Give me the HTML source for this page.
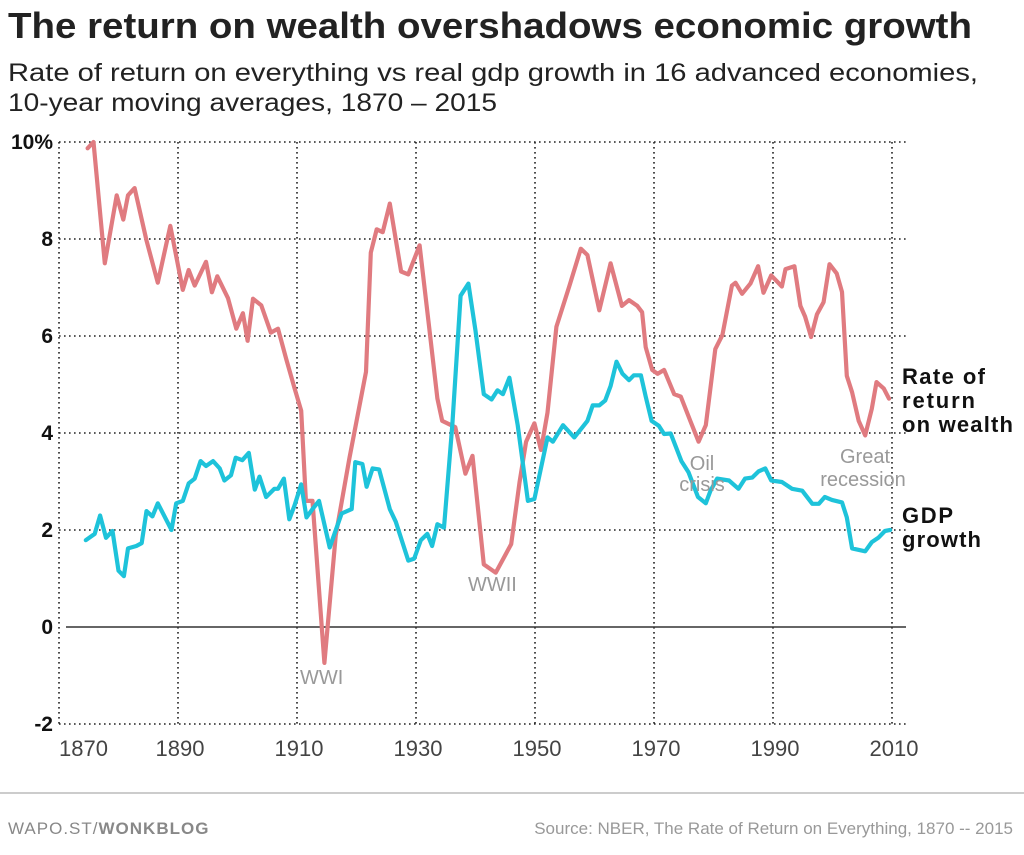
<!DOCTYPE html>
<html><head><meta charset="utf-8"><style>
html,body{margin:0;padding:0;background:#fff;}
svg{display:block;font-family:"Liberation Sans Narrow","Liberation Sans",sans-serif;}
</style></head><body>
<svg id="chart" width="1024" height="855" viewBox="0 0 1024 855" xmlns="http://www.w3.org/2000/svg">
<text x="8" y="38" font-size="36" font-weight="bold" fill="#222" textLength="964" lengthAdjust="spacingAndGlyphs">The return on wealth overshadows economic growth</text>
<text x="8" y="81" font-size="25" fill="#222" textLength="970" lengthAdjust="spacingAndGlyphs">Rate of return on everything vs real gdp growth in 16 advanced economies,</text>
<text x="8" y="111" font-size="25" fill="#222" textLength="489" lengthAdjust="spacingAndGlyphs">10-year moving averages, 1870 – 2015</text>
<g id="grid"></g>
<g id="axes"></g>
<g id="series"></g>
<text x="300" y="684" font-size="20" fill="#999" font-family="Liberation Sans, sans-serif">WWI</text>
<text x="468" y="591" font-size="20" fill="#999" font-family="Liberation Sans, sans-serif">WWII</text>
<text font-size="20" fill="#999" font-family="Liberation Sans, sans-serif" text-anchor="middle"><tspan x="702" y="470">Oil</tspan><tspan x="702" y="491">crisis</tspan></text>
<text font-size="20" fill="#999" font-family="Liberation Sans, sans-serif" text-anchor="middle"><tspan x="865" y="463">Great</tspan><tspan x="863" y="486">recession</tspan></text>
<text font-size="22" font-weight="bold" fill="#111" font-family="Liberation Sans, sans-serif"><tspan x="902" y="384" textLength="83">Rate of</tspan><tspan x="902" y="408" textLength="73">return</tspan><tspan x="902" y="432" textLength="111">on wealth</tspan></text>
<text font-size="22" font-weight="bold" fill="#111" font-family="Liberation Sans, sans-serif"><tspan x="902" y="523" textLength="51">GDP</tspan><tspan x="902" y="547" textLength="79">growth</tspan></text>
<line x1="0" y1="793" x2="1024" y2="793" stroke="#bbb" stroke-width="1.5"/>
<text x="8" y="834" font-size="17" fill="#888" font-family="Liberation Sans, sans-serif" letter-spacing="1">WAPO.ST/<tspan font-weight="bold">WONKBLOG</tspan></text>
<text x="1013" y="834" font-size="17" fill="#999" font-family="Liberation Sans, sans-serif" text-anchor="end">Source: NBER, The Rate of Return on Everything, 1870 -- 2015</text>
</svg>
<script>
const xTickLabels=[1870,1890,1910,1930,1950,1970,1990,2010];
const yTickValues=[-2,0,2,4,6,8,10];
const yTickLabels=["-2","0","2","4","6","8","10%"];
const returnYears=[1874.8,1875.8,1877.7,1879.7,1880.8,1881.6,1882.7,1884.7,1886.6,1888.7,1890.8,1891.8,1892.8,1894.7,1895.7,1896.6,1898.4,1899.8,1900.9,1901.7,1902.6,1904,1905.6,1906.8,1908.2,1909.6,1910.7,1911.5,1912.6,1914.6,1916.5,1918.8,1921.6,1922.4,1923.4,1924.4,1925.6,1927.5,1928.7,1930.6,1932.2,1933.6,1934.4,1936.6,1938.3,1939.5,1941.4,1943.4,1946,1947.4,1948.5,1949.9,1951,1952.1,1953.6,1955.8,1957.7,1958.8,1960.8,1962.7,1964.6,1965.8,1967.2,1968,1968.6,1969.7,1970.6,1971.7,1973.4,1974.5,1976.1,1977.5,1978.7,1980.3,1981.5,1983.1,1983.7,1984.8,1986.2,1987.5,1988.4,1989.7,1991.5,1992.1,1993.6,1994.6,1995.4,1996.4,1997.4,1998.5,1999.5,2000.7,2001.6,2002.4,2003.3,2004.4,2005.5,2006.6,2007.4,2008.6,2009.5];
const returnValues=[9.87,10.0,7.5,8.9,8.4,8.9,9.05,7.97,7.1,8.27,6.95,7.36,7.04,7.53,6.9,7.23,6.78,6.15,6.47,5.9,6.77,6.63,6.07,6.15,5.52,4.92,4.46,2.6,2.6,-0.74,1.88,3.48,5.26,7.72,8.2,8.14,8.73,7.33,7.27,7.87,6.19,4.71,4.25,4.12,3.16,3.53,1.29,1.12,1.71,2.98,3.82,4.2,3.65,4.42,6.19,7.04,7.8,7.67,6.53,7.5,6.62,6.74,6.62,6.49,5.77,5.3,5.22,5.3,4.8,4.75,4.25,3.82,4.16,5.73,6.02,7.04,7.1,6.87,7.08,7.44,6.89,7.25,7.02,7.38,7.44,6.62,6.4,5.98,6.45,6.7,7.48,7.29,6.91,5.18,4.84,4.25,3.95,4.5,5.05,4.92,4.71];
const gdpYears=[1874.5,1876,1876.9,1877.9,1879,1880,1880.9,1881.6,1883,1883.9,1884.7,1885.7,1886.6,1888.9,1889.7,1890.8,1891.8,1892.8,1893.8,1894.7,1895.9,1897,1897.8,1898.9,1899.7,1900.8,1901.9,1902.9,1903.7,1904.8,1906.2,1906.8,1907.8,1908.7,1909.6,1910.7,1911.6,1912.6,1913.7,1915.5,1917.5,1919.2,1919.8,1921,1921.7,1922.7,1923.8,1925.6,1926.6,1928.7,1929.7,1930.8,1931.9,1932.7,1933.6,1934.7,1936.1,1937.5,1938.8,1940,1941.4,1942.7,1943.7,1944.6,1945.7,1947.1,1948.8,1949.9,1952.1,1953,1954.7,1956.6,1958.8,1959.7,1960.8,1961.8,1962.7,1963.7,1964.7,1965.8,1966.6,1967.8,1968.6,1969.6,1970.8,1971.7,1972.8,1973.6,1974.6,1975.8,1977.4,1978.7,1979.5,1980.6,1982.6,1984.2,1985.3,1986.5,1987.6,1988.7,1989.7,1991.5,1993.2,1994.9,1996.6,1997.7,1998.7,1999.9,2001.6,2002.4,2003.3,2005.5,2006.6,2007.7,2008.8,2009.7];
const gdpValues=[1.79,1.92,2.3,1.84,1.98,1.16,1.05,1.62,1.67,1.73,2.39,2.28,2.55,2.0,2.55,2.6,2.96,3.06,3.42,3.32,3.42,3.27,3.02,3.13,3.49,3.44,3.59,2.83,3.1,2.68,2.85,2.85,3.06,2.22,2.51,2.94,2.26,2.43,2.6,1.64,2.34,2.43,3.4,3.36,2.89,3.27,3.25,2.43,2.17,1.37,1.41,1.79,1.92,1.67,2.12,2.05,4.16,6.83,7.08,6.11,4.8,4.69,4.88,4.8,5.14,4.16,2.6,2.64,3.91,3.82,4.16,3.91,4.25,4.57,4.57,4.67,4.97,5.47,5.22,5.09,5.19,5.19,4.75,4.25,4.15,3.98,3.99,3.74,3.42,3.19,2.68,2.55,2.81,3.06,3.02,2.85,3.06,3.08,3.21,3.27,3.02,2.99,2.85,2.81,2.54,2.54,2.68,2.62,2.57,2.26,1.62,1.56,1.75,1.84,1.98,2.0];

const NS="http://www.w3.org/2000/svg";
function xScale(yr){return 59+(yr-1870)*(892-59)/140;}
function yScale(v){return 627-v*48.5;}
function mk(tag,attrs,parent){const e=document.createElementNS(NS,tag);for(const k in attrs)e.setAttribute(k,attrs[k]);parent.appendChild(e);return e;}
const grid=document.getElementById('grid'),axes=document.getElementById('axes'),series=document.getElementById('series');
yTickValues.forEach((v,i)=>{
  if(v!==0){const l=mk('line',{x1:59,x2:906,y1:yScale(v),y2:yScale(v),stroke:'#222','stroke-width':1.6,'stroke-dasharray':'1.6 3.4'},grid);
  
  }
  const t=mk('text',{x:53,y:yScale(v)+7,'text-anchor':'end','font-size':21,'font-weight':'bold',fill:'#111','font-family':'Liberation Sans, sans-serif'},axes);
  t.textContent=yTickLabels[i];
  
  
});
xTickLabels.forEach((yr,i)=>{
  const l=mk('line',{x1:xScale(yr),x2:xScale(yr),y1:142,y2:727,stroke:'#222','stroke-width':1.6,'stroke-dasharray':'1.6 3.4'},grid);
  
  
  const t=mk('text',{x:i===0?xScale(yr):xScale(yr)+2,y:756,'text-anchor':i===0?'start':'middle','font-size':22,fill:'#444','font-family':'Liberation Sans, sans-serif'},axes);
  t.textContent=yr;
  
  
});
const z=mk('line',{x1:66,x2:906,y1:yScale(0),y2:yScale(0),stroke:'#333','stroke-width':1.5},axes);


function draw(xs,vs,color,name){
  const d=xs.map((yr,i)=>(i?'L':'M')+xScale(yr).toFixed(1)+','+yScale(vs[i]).toFixed(1)).join('');
  const p=mk('path',{d:d,fill:'none',stroke:color,'stroke-width':4.2,'stroke-linejoin':'round','stroke-linecap':'round'},series);
  
  
}
draw(returnYears,returnValues,'#e07b80','return-on-wealth-line');
draw(gdpYears,gdpValues,'#1ec3da','gdp-growth-line');
</script>
</body></html>
